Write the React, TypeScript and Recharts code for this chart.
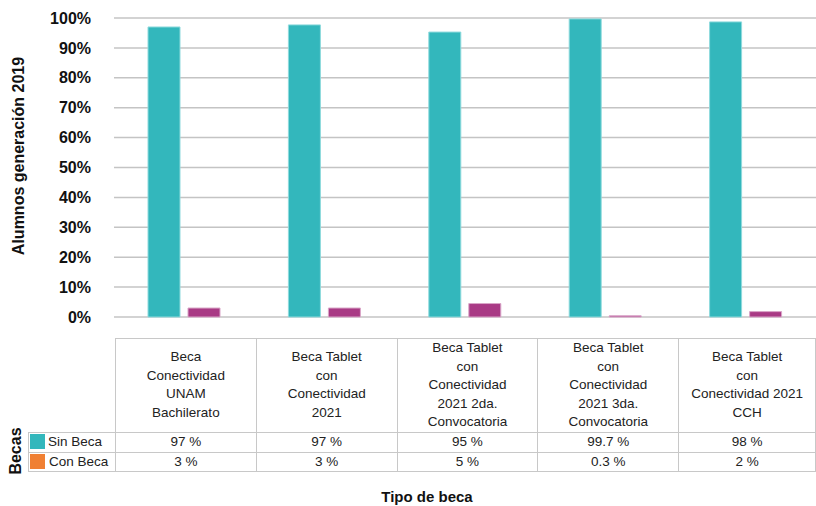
import React from 'react';
import { BarChart, Bar, YAxis, XAxis, CartesianGrid } from 'recharts';

const categories = [
  'Beca Conectividad UNAM Bachilerato',
  'Beca Tablet con Conectividad 2021',
  'Beca Tablet con Conectividad 2021 2da. Convocatoria',
  'Beca Tablet con Conectividad 2021 3da. Convocatoria',
  'Beca Tablet con Conectividad 2021 CCH',
];
const headerLines = [
  ['Beca', 'Conectividad', 'UNAM', 'Bachilerato'],
  ['Beca Tablet', 'con', 'Conectividad', '2021'],
  ['Beca Tablet', 'con', 'Conectividad', '2021 2da.', 'Convocatoria'],
  ['Beca Tablet', 'con', 'Conectividad', '2021 3da.', 'Convocatoria'],
  ['Beca Tablet', 'con', 'Conectividad 2021', 'CCH'],
];
const sinBeca = [97, 97.7, 95.3, 99.7, 98.7];
const conBeca = [3, 3, 4.5, 0.4, 1.8];
const sinBecaText = ['97 %', '97 %', '95 %', '99.7 %', '98 %'];
const conBecaText = ['3 %', '3 %', '5 %', '0.3 %', '2 %'];
const yTicks = [0, 10, 20, 30, 40, 50, 60, 70, 80, 90, 100];

const TEAL = '#33b7bc';
const MAGENTA = '#a93a85';
const ORANGE = '#f08033';
const FONT = "'Liberation Sans', Arial, Helvetica, sans-serif";
const BORDER = '1.5px solid #c8c8c8';

const data = categories.map((c, i) => ({ name: c, sin: sinBeca[i], con: conBeca[i] }));

const colWidths = [141, 141, 141, 141, 137];

const cell: React.CSSProperties = {
  border: BORDER,
  padding: 0,
  textAlign: 'center',
  verticalAlign: 'middle',
};

export default function App() {
  return (
    <div style={{ position: 'absolute', left: 0, top: 0, width: 816, height: 506, background: '#fff', fontFamily: FONT, overflow: 'hidden' }}>
      <BarChart
        width={816}
        height={340}
        data={data}
        margin={{ top: 18, right: 0, left: 0, bottom: 23 }}
        barSize={32}
        barGap={8}
      >
        <CartesianGrid vertical={false} stroke="#c4c4c4" strokeWidth={1.5} />
        <XAxis dataKey="name" hide />
        <YAxis
          width={114}
          domain={[0, 100]}
          ticks={yTicks}
          interval={0}
          axisLine={false}
          tickLine={false}
          tickSize={0}
          tickMargin={23}
          tickFormatter={(v) => `${v}%`}
          tick={{ fontSize: 16, fontWeight: 'bold', fill: '#111', fontFamily: FONT }}
        />
        <Bar dataKey="sin" fill={TEAL} stroke="#8fdadd" strokeWidth={1} isAnimationActive={false} />
        <Bar dataKey="con" fill={MAGENTA} stroke="#d9a6c8" strokeWidth={1} isAnimationActive={false} />
      </BarChart>

      <svg width={816} height={506} style={{ position: 'absolute', left: 0, top: 0, pointerEvents: 'none' }}>
        <text
          transform="translate(18,156) rotate(-90)"
          textAnchor="middle"
          dominantBaseline="central"
          fontSize={16}
          fontWeight="bold"
          fill="#111"
          fontFamily={FONT}
        >
          Alumnos generación 2019
        </text>
        <text
          transform="translate(15,451) rotate(-90)"
          textAnchor="middle"
          dominantBaseline="central"
          fontSize={16}
          fontWeight="bold"
          fill="#111"
          fontFamily={FONT}
        >
          Becas
        </text>
        <text x={427} y={502} textAnchor="middle" fontSize={15} fontWeight="bold" fill="#111" fontFamily={FONT}>
          Tipo de beca
        </text>
      </svg>

      <table
        style={{
          position: 'absolute',
          left: 28,
          top: 338,
          borderCollapse: 'collapse',
          tableLayout: 'fixed',
          fontSize: 13.5,
          color: '#222',
          fontFamily: FONT,
          lineHeight: '18px',
        }}
      >
        <colgroup>
          <col style={{ width: 87 }} />
          {colWidths.map((w, i) => (
            <col key={i} style={{ width: w }} />
          ))}
        </colgroup>
        <tbody>
          <tr style={{ height: 93, lineHeight: '18.6px' }}>
            <td style={{ padding: 0, border: 'none', borderRight: BORDER, borderBottom: BORDER }} />
            {headerLines.map((lines, i) => (
              <td key={i} style={cell}>
                {lines.map((l, j) => (
                  <div key={j}>{l}</div>
                ))}
              </td>
            ))}
          </tr>
          <tr style={{ height: 20 }}>
            <td style={{ ...cell, textAlign: 'left', whiteSpace: 'nowrap' }}>
              <span style={{ display: 'inline-block', width: 15, height: 15, background: TEAL, verticalAlign: '-3px', margin: '0 3px 0 1px' }} />
              Sin Beca
            </td>
            {sinBecaText.map((t, i) => (
              <td key={i} style={cell}>{t}</td>
            ))}
          </tr>
          <tr style={{ height: 19 }}>
            <td style={{ ...cell, textAlign: 'left', whiteSpace: 'nowrap' }}>
              <span style={{ display: 'inline-block', width: 15, height: 15, background: ORANGE, verticalAlign: '-3px', margin: '0 4px 0 1px' }} />
              Con Beca
            </td>
            {conBecaText.map((t, i) => (
              <td key={i} style={cell}>{t}</td>
            ))}
          </tr>
        </tbody>
      </table>
    </div>
  );
}
